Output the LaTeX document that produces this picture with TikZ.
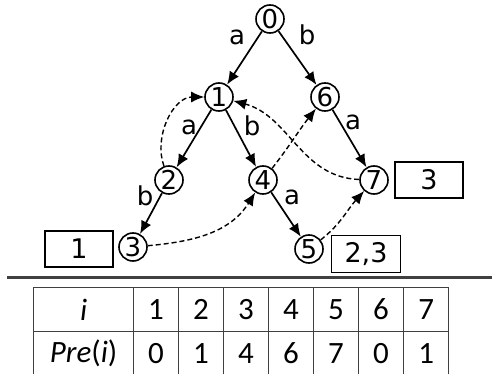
\documentclass[tikz,border=0pt]{standalone}
\usepackage{fontspec}
\setmainfont{DejaVu Sans}
\newfontfamily\calib{Carlito}
\usetikzlibrary{arrows.meta}
\begin{document}
\begin{tikzpicture}[x=1pt,y=-1pt,
  st/.style={circle,draw,line width=1.6pt,minimum size=28pt,inner sep=0pt,font=\fontsize{26}{26}\selectfont},
  lbl/.style={inner sep=0pt,font=\fontsize{26}{26}\selectfont},
  edge/.style={line width=1.7pt,-{Latex[length=13pt,width=11pt]}},
  fail/.style={line width=1.4pt,dash pattern=on 5pt off 3pt,-{Latex[length=13pt,width=11pt]}},
  outbox/.style={draw,line width=1.4pt,minimum width=68pt,minimum height=36pt,inner sep=0pt,font=\fontsize{27}{27}\selectfont},
  cell/.style={draw,line width=1.2pt,draw=black!75,minimum height=44pt,inner sep=0pt,anchor=north west,font=\calib\fontsize{31}{31}\selectfont},
]
\useasboundingbox (0,0) rectangle (492,374);
% states
\node[st] (n0) at (270,19) {0};
\node[st] (n1) at (219,97) {1};
\node[st] (n6) at (325,97) {6};
\node[st] (n2) at (169,180) {2};
\node[st] (n4) at (263,180) {4};
\node[st] (n7) at (374,180) {7};
\node[st] (n3) at (133,247) {3};
\node[st] (n5) at (309,249) {5};
% goto edges
\draw[edge] (n0) -- (n1);
\draw[edge] (n0) -- (n6);
\draw[edge] (n1) -- (n2);
\draw[edge] (n1) -- (n4);
\draw[edge] (n6) -- (n7);
\draw[edge] (n2) -- (n3);
\draw[edge] (n4) -- (n5);
% labels
\node[lbl] (la1) at (237,37) {a};
\node[lbl] (lb1) at (307,35) {b};
\node[lbl] (la2) at (189,127) {a};
\node[lbl] (lb2) at (252,126) {b};
\node[lbl] (la3) at (353,122) {a};
\node[lbl] (lb3) at (145,196) {b};
\node[lbl] (la4) at (292,197) {a};
% failure links
\draw[fail] (n2) to[out=110,in=180] (n1);
\draw[fail] (n7) to[out=178,in=-15] (n1);
\draw[fail] (n4) to[out=52,in=232] (n6);
\draw[fail] (n3) to[out=5,in=-122] (n4);
\draw[fail] (n5) to[out=38,in=228] (n7);
% output boxes
\node[outbox] (o7) at (429,180) {3};
\node[outbox] (o3) at (79,249) {1};
\node[outbox,minimum width=69pt,minimum height=37pt] (o5) at (366,254) {2,3};
% separator
\coordinate (sl) at (7,277.5);
\coordinate (sr) at (492,277.5);
\draw[line width=2.2pt,black!75] (sl) -- (sr);
% table
\node[cell,minimum width=100pt] (h0) at (33,287) {\itshape i};
\node[cell,minimum width=100pt] (r0) at (33,331) {\itshape Pre\/\upshape(\itshape i\/\upshape)};
\foreach \k/\a/\b in {1/1/0,2/2/1,3/3/4,4/4/6,5/5/7,6/6/0,7/7/1}{
  \node[cell,minimum width=45pt] (h\k) at ({133+45*(\k-1)},287) {\a};
  \node[cell,minimum width=45pt] (r\k) at ({133+45*(\k-1)},331) {\b};
}
\end{tikzpicture}
\end{document}
